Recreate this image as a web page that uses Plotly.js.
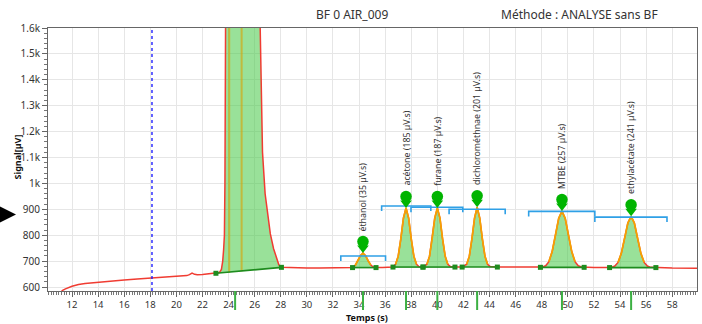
<!DOCTYPE html>
<html>
<head>
<meta charset="utf-8">
<script src="https://cdn.plot.ly/plotly-3.0.1.min.js"></script>
<style>html,body{margin:0;padding:0;background:#fff}</style>
</head>
<body>
<div id="chart" style="width:702px;height:324px"></div>
<script>
// ---- signal (time s, µV) ----
const sigX = [11.2, 11.5, 12, 12.5, 13, 14, 15, 16, 17, 18, 19, 20, 20.8, 21.0, 21.2, 21.4, 21.6, 22, 22.5,
  23.03, 23.3, 23.45, 23.55, 23.62, 23.68, 23.72, 23.75, 23.8, 24.2, 25.5, 26.2, 26.4, 26.6, 26.8, 27.0, 27.2, 27.45, 27.7, 27.85, 28.05,
  29, 30, 31, 32, 33, 33.5, 33.7, 33.9, 34.1, 34.3, 34.5, 34.7, 34.9, 35.1, 35.3,
  35.8, 36.3, 36.6, 36.8, 37.0, 37.2, 37.4, 37.6, 37.8, 38.0, 38.2, 38.4, 38.6, 38.9,
  39.2, 39.4, 39.6, 39.8, 40.0, 40.2, 40.4, 40.6, 40.8, 41.0, 41.35, 41.6,
  41.9, 42.25, 42.45, 42.65, 42.85, 43.05, 43.25, 43.45, 43.65, 43.85, 44.05, 44.6,
  45, 46, 47, 47.9, 48.05, 48.3, 48.55, 48.8, 49.05, 49.3, 49.55, 49.8, 50.05, 50.3, 50.55, 50.8, 51.05, 51.25,
  52, 53.2, 53.35, 53.6, 53.85, 54.1, 54.35, 54.6, 54.85, 55.1, 55.35, 55.6, 55.85, 56.1, 56.35, 56.75, 58, 60];
const sigY = [585, 593, 603, 610, 614, 619, 623, 627, 631, 635, 638, 641, 644, 648, 654, 649, 647, 648, 650,
  653, 656, 668, 700, 745, 800, 1000, 1400, 2000, 3000, 3000, 2200, 1600, 1120, 960, 870, 805, 748, 705, 686, 676,
  674, 673, 673, 673, 673, 675, 683, 701, 721, 731, 721, 701, 685, 677, 675,
  675, 675, 677, 688, 719, 786, 866, 905, 866, 786, 719, 688, 678, 677,
  688, 719, 786, 866, 905, 866, 786, 719, 688, 679, 677, 677,
  677, 688, 719, 786, 866, 908, 866, 786, 719, 688, 679, 677,
  677, 677, 676, 676, 677, 682, 698, 737, 800, 865, 893, 865, 800, 737, 698, 682, 677, 676,
  675, 675, 676, 681, 695, 730, 788, 847, 873, 847, 788, 730, 695, 681, 676, 675, 673, 672];

// ---- integration baselines (first one = large off-scale peak) ----
const baseStartX = [23.03, 33.5, 36.6, 38.9, 41.9, 47.9, 53.2];
const baseStartY = [653, 675, 677, 677, 677, 676, 675];
const baseEndX   = [28.05, 35.3, 38.9, 41.35, 44.6, 51.25, 56.75];
const baseEndY   = [676, 675, 677, 677, 677, 676, 675];

// ---- identified peaks ----
const peakNames = ['éthanol', 'acétone', 'furane', 'dichlorométhnae', 'MTBE', 'ethylacétate'];
const peakAreas = [35, 185, 187, 201, 257, 241];
const peakRT    = [34.3, 37.6, 40.0, 43.05, 49.55, 54.85];
const peakTop   = [731, 905, 905, 908, 893, 873];
const bracketL  = [32.6, 35.73, 37.98, 40.9, 47.0, 52.07];
const bracketR  = [36.03, 39.5, 41.95, 45.2, 52.07, 57.6];
const bracketY  = [720, 913, 908, 900, 892, 870];

// retention-time marks under the axis (incl. big peak)
const rtMarks = [24.5, 34.3, 37.6, 40.0, 43.05, 49.55, 54.85];
// fitted edges of the big peak
const mainFitX = [24.05, 25.0];
const mainFitBase = [655, 661];
const cursorX = 18.13;

const xRange = [10.16, 59.9];
const yRange = [584.6, 1600];
const M = {l: 48, r: 5, t: 28, b: 33};
const plotW = 702 - M.l - M.r;
const plotH = 324 - M.t - M.b;
const upp = (yRange[1] - yRange[0]) / plotH; // data units per pixel
const px = v => (v - M.l) / plotW;          // page x pixel -> paper
const py = v => (324 - M.b - v) / plotH;    // page y pixel -> paper

const traces = [];
// fills
for (let i = 0; i < baseStartX.length; i++) {
  const xs = [], ys = [];
  for (let k = 0; k < sigX.length; k++) {
    if (sigX[k] >= baseStartX[i] && sigX[k] <= baseEndX[i]) { xs.push(sigX[k]); ys.push(sigY[k]); }
  }
  xs.push(baseEndX[i], baseStartX[i]); ys.push(baseEndY[i], baseStartY[i]);
  traces.push({x: xs, y: ys, mode: 'lines', fill: 'toself', fillcolor: 'rgba(70,200,70,0.55)',
    line: {width: 0}, hoverinfo: 'skip'});
}
// signal
traces.push({x: sigX, y: sigY, mode: 'lines', line: {color: '#f03c32', width: 1.5}});
// orange fits on labelled peaks
for (let i = 1; i < baseStartX.length; i++) {
  const xs = [], ys = [];
  const b = baseStartY[i];
  for (let k = 0; k < sigX.length; k++) {
    if (sigX[k] > baseStartX[i] && sigX[k] < baseEndX[i] && sigY[k] - b > 6) { xs.push(sigX[k]); ys.push(sigY[k]); }
  }
  traces.push({x: xs, y: ys, mode: 'lines', line: {color: '#f5a300', width: 1.7}});
}
// big peak fit edges
for (let j = 0; j < mainFitX.length; j++) {
  traces.push({x: [mainFitX[j], mainFitX[j]], y: [mainFitBase[j], yRange[1] + 100], mode: 'lines',
    line: {color: 'rgba(220,160,0,0.6)', width: 2}});
}
// baselines
for (let i = 0; i < baseStartX.length; i++) {
  traces.push({x: [baseStartX[i], baseEndX[i]], y: [baseStartY[i], baseEndY[i]], mode: 'lines+markers',
    line: {color: '#1e8c1e', width: 1.6}, marker: {symbol: 'square', size: 5, color: '#1e8c1e'}});
}
// brackets
const tick = 5 * upp;
for (let i = 0; i < peakNames.length; i++) {
  traces.push({x: [bracketL[i], bracketL[i], bracketR[i], bracketR[i]],
    y: [bracketY[i] - tick, bracketY[i], bracketY[i], bracketY[i] - tick], mode: 'lines',
    line: {color: '#2fa0e6', width: 1.6}});
}
// pins (teardrop = circle + triangle)
traces.push({x: peakRT, y: peakTop.map(v => v + 5 * upp), mode: 'markers',
  marker: {symbol: 'triangle-down', size: 10, color: '#00b400', line: {width: 0}}});
traces.push({x: peakRT, y: peakTop.map(v => v + 11.5 * upp), mode: 'markers',
  marker: {symbol: 'circle', size: 11.5, color: '#00b400', line: {width: 0}}});

const font = 'Noto Sans, Open Sans, sans-serif';
const annotations = peakNames.map((n, i) => ({
  x: peakRT[i], y: peakTop[i], xref: 'x', yref: 'y', yshift: 20, textangle: -90,
  xanchor: 'center', yanchor: 'bottom', showarrow: false,
  text: n + ' (' + peakAreas[i] + ' µV.s)', font: {family: font, size: 8.8, color: '#333'}
}));
annotations.push({x: px(351.5), y: py(15), xref: 'paper', yref: 'paper', xanchor: 'center', yanchor: 'middle',
  showarrow: false, text: 'BF 0 AIR_009', font: {family: font, size: 12, color: '#333'}});
annotations.push({x: px(579.5), y: py(15), xref: 'paper', yref: 'paper', xanchor: 'center', yanchor: 'middle',
  showarrow: false, text: 'Méthode : ANALYSE sans BF', font: {family: font, size: 12, color: '#333'}});
annotations.push({x: px(17), y: py(157.5), xref: 'paper', yref: 'paper', xanchor: 'center', yanchor: 'middle',
  textangle: -90, showarrow: false, text: '<b>Signal[µV]</b>', font: {family: font, size: 9, color: '#111'}});
annotations.push({x: px(367), y: py(317.5), xref: 'paper', yref: 'paper', xanchor: 'center', yanchor: 'middle',
  showarrow: false, text: '<b>Temps (s)</b>', font: {family: font, size: 9, color: '#111'}});

const shapes = [
  {type: 'line', xref: 'x', yref: 'paper', x0: cursorX, x1: cursorX, y0: 0, y1: 1,
   line: {color: '#1010ff', width: 1.3, dash: 'dot'}},
  {type: 'path', xref: 'paper', yref: 'paper', xsizemode: 'pixel', ysizemode: 'pixel',
   xanchor: 0, yanchor: py(214.5), path: 'M -48 8 L -32 0 L -48 -8 Z', fillcolor: '#000', line: {width: 0}}
];
rtMarks.forEach(r => shapes.push({type: 'line', xref: 'x', yref: 'paper', ysizemode: 'pixel', yanchor: 0,
  x0: r, x1: r, y0: 0, y1: -19, line: {color: '#3cb043', width: 2}}));

const layout = {
  width: 702, height: 324, margin: M, showlegend: false,
  paper_bgcolor: '#fff', plot_bgcolor: '#fff',
  font: {family: font, size: 10, color: '#333'},
  xaxis: {range: xRange, dtick: 2, tick0: 0, showgrid: true, gridcolor: '#e6e6e6', zeroline: false,
    showline: true, linecolor: '#666', mirror: true, ticks: 'outside', ticklen: 5, tickcolor: '#666',
    tickfont: {size: 9.5, color: '#333'}, ticklabelstandoff: 0,
    minor: {dtick: 0.2, ticks: 'outside', ticklen: 3, tickcolor: '#777', showgrid: false}},
  yaxis: {range: yRange, dtick: 100, tick0: 0, tickformat: '~s', showgrid: true, gridcolor: '#e6e6e6',
    zeroline: false, showline: true, linecolor: '#666', mirror: true, ticks: 'outside', ticklen: 5,
    tickcolor: '#666', tickfont: {size: 10, color: '#333'},
    minor: {dtick: 20, ticks: 'outside', ticklen: 3, tickcolor: '#777', showgrid: false}},
  annotations: annotations, shapes: shapes
};
Plotly.newPlot('chart', traces, layout, {displayModeBar: false, staticPlot: true});
</script>
</body>
</html>
